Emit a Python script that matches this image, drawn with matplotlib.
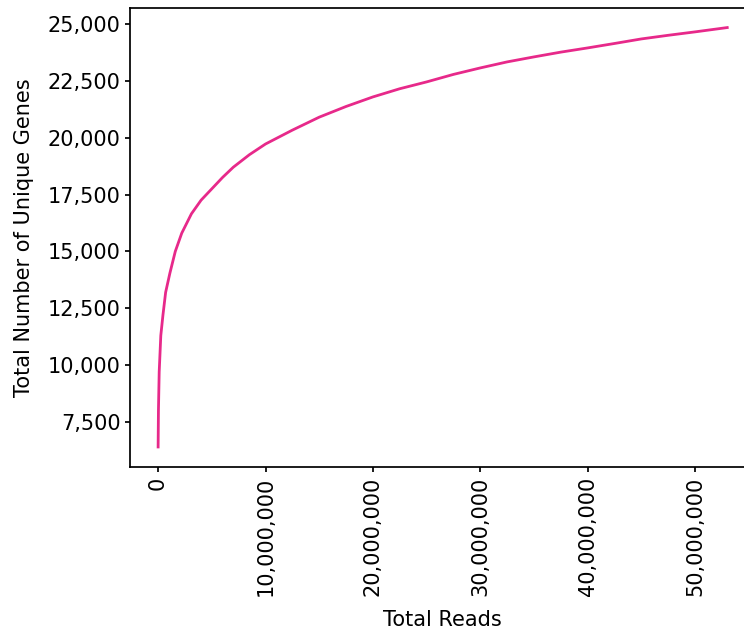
import matplotlib
matplotlib.use("Agg")
import matplotlib.pyplot as plt
from matplotlib.ticker import FuncFormatter

# rarefaction curve (reads, unique genes)
reads = [0, 0.03e6, 0.1e6, 0.25e6, 0.45e6, 0.7e6, 1.1e6, 1.6e6, 2.2e6, 3.1e6, 4.0e6,
         4.9e6, 6.0e6, 7.0e6, 8.5e6, 10e6, 12.5e6, 15e6, 17.5e6, 20e6, 22.5e6, 25e6,
         27.5e6, 30e6, 32.5e6, 35e6, 37.5e6, 40e6, 42.5e6, 45e6, 47.5e6, 50e6, 53e6]
genes = [6400, 8000, 9700, 11300, 12200, 13200, 14050, 15000, 15800, 16650, 17250,
         17700, 18250, 18700, 19250, 19720, 20330, 20900, 21370, 21790, 22150, 22450,
         22780, 23065, 23330, 23550, 23760, 23945, 24140, 24340, 24500, 24650, 24840]

yticks = [7500, 10000, 12500, 15000, 17500, 20000, 22500, 25000]
xticks = [0, 10e6, 20e6, 30e6, 40e6, 50e6]

plt.rcParams["font.size"] = 15
plt.rcParams["axes.linewidth"] = 1.25
plt.rcParams["xtick.major.width"] = 1.25
plt.rcParams["ytick.major.width"] = 1.25
fig = plt.figure(figsize=(7.44, 6.35), dpi=100)
ax = fig.add_axes([0.175, 0.2646, 0.84, 0.7228])
ax.plot(reads, genes, color="#e7298a", linewidth=2)
ax.set_xlim(-2.6e6, 55.6e6)
ax.set_ylim(5520, 25700)
ax.set_xticks(xticks)
ax.set_yticks(yticks)
fmt = FuncFormatter(lambda v, p: f"{int(v):,}")
ax.xaxis.set_major_formatter(fmt)
ax.yaxis.set_major_formatter(fmt)
plt.setp(ax.get_xticklabels(), rotation=90)
ax.set_xlabel("Total Reads", labelpad=10)
ax.set_ylabel("Total Number of Unique Genes", labelpad=10)
fig.savefig("out.png", dpi=100)
